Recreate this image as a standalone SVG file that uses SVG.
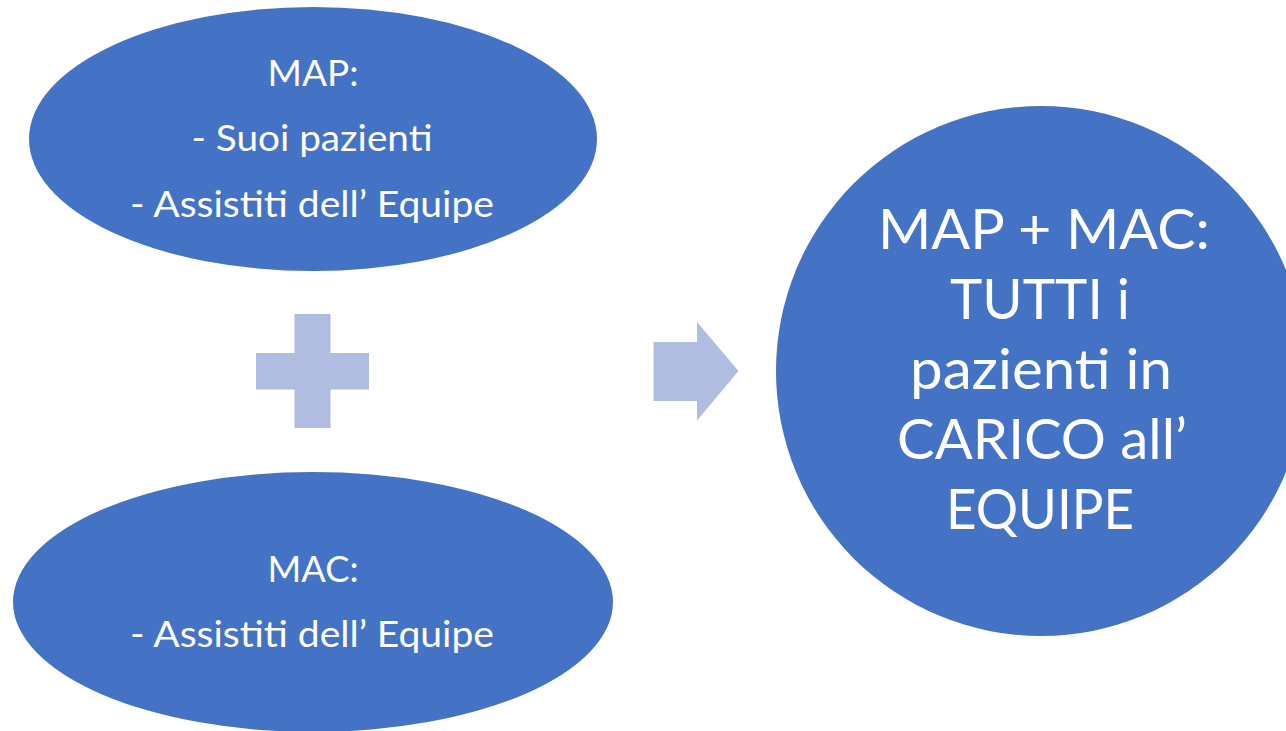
<svg xmlns="http://www.w3.org/2000/svg" width="1286" height="731" viewBox="0 0 1286 731">
<style>
.node{fill:#4472C4;}
.sym{fill:#B1BDE0;}
.t{fill:#FFFFFF;font-family:Lato,"Open Sans","Liberation Sans",sans-serif;text-anchor:middle;}
.s{font-size:37px;}
.l{font-size:57px;}
</style>
<rect width="1286" height="731" fill="#FFFFFF"/>
<g id="map">
<ellipse class="node" cx="313" cy="139" rx="284" ry="132"/>
<text class="t s" x="313" y="86" textLength="91" lengthAdjust="spacingAndGlyphs">MAP:</text>
<text class="t s" x="312" y="151" textLength="241" lengthAdjust="spacingAndGlyphs">- Suoi pazienti</text>
<text class="t s" x="312" y="217" textLength="364" lengthAdjust="spacingAndGlyphs">- Assistiti dell’ Equipe</text>
</g>
<g id="mac">
<ellipse class="node" cx="313" cy="602" rx="300" ry="130"/>
<text class="t s" x="313" y="582" textLength="91" lengthAdjust="spacingAndGlyphs">MAC:</text>
<text class="t s" x="312" y="647" textLength="364" lengthAdjust="spacingAndGlyphs">- Assistiti dell’ Equipe</text>
</g>
<g id="plus">
<path class="sym" d="M294.5,314 H330.5 V353 H369 V389.5 H330.5 V428 H294.5 V389.5 H256 V353 H294.5 Z"/>
</g>
<g id="connectors">
<path class="sym" d="M653.5,342 H697 V322 L738.5,371 L697,420.5 V401 H653.5 Z"/>
</g>
<g id="result">
<circle class="node" cx="1041" cy="371" r="265"/>
<text class="t l" x="1044" y="249" textLength="332" lengthAdjust="spacingAndGlyphs">MAP + MAC:</text>
<text class="t l" x="1040" y="319" textLength="180" lengthAdjust="spacingAndGlyphs">TUTTI i</text>
<text class="t l" x="1041" y="389" textLength="262" lengthAdjust="spacingAndGlyphs">pazienti in</text>
<text class="t l" x="1042" y="459" textLength="290" lengthAdjust="spacingAndGlyphs">CARICO all’</text>
<text class="t l" x="1040" y="529" textLength="188" lengthAdjust="spacingAndGlyphs">EQUIPE</text>
</g>
</svg>
